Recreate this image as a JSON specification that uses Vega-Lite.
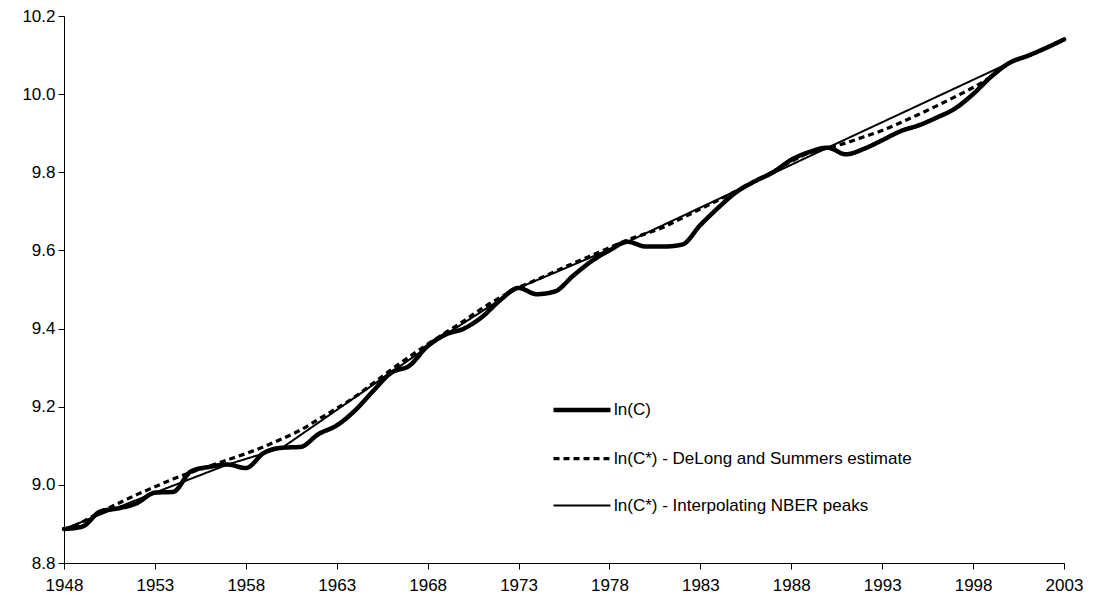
{
  "$schema": "https://vega.github.io/schema/vega-lite/v6.json",
  "width": 1000,
  "height": 547,
  "autosize": {"type": "none"},
  "padding": {"left": 64, "top": 16, "right": 31, "bottom": 45},
  "background": "white",
  "config": {
    "view": {"stroke": null},
    "font": "Liberation Sans",
    "axis": {
      "grid": false,
      "domainColor": "black",
      "domainWidth": 1,
      "tickColor": "black",
      "tickSize": 6,
      "labelColor": "black",
      "labelFont": "Liberation Sans",
      "labelFontSize": 17,
      "title": null
    }
  },
  "datasets": {
    "all": [
      {"year": 1948, "series": "ln(C)", "value": 8.887},
      {"year": 1949, "series": "ln(C)", "value": 8.893},
      {"year": 1950, "series": "ln(C)", "value": 8.932},
      {"year": 1951, "series": "ln(C)", "value": 8.94},
      {"year": 1952, "series": "ln(C)", "value": 8.953},
      {"year": 1953, "series": "ln(C)", "value": 8.98},
      {"year": 1954, "series": "ln(C)", "value": 8.982},
      {"year": 1955, "series": "ln(C)", "value": 9.035},
      {"year": 1956, "series": "ln(C)", "value": 9.046},
      {"year": 1957, "series": "ln(C)", "value": 9.052},
      {"year": 1958, "series": "ln(C)", "value": 9.043},
      {"year": 1959, "series": "ln(C)", "value": 9.082},
      {"year": 1960, "series": "ln(C)", "value": 9.095},
      {"year": 1961, "series": "ln(C)", "value": 9.097},
      {"year": 1962, "series": "ln(C)", "value": 9.13},
      {"year": 1963, "series": "ln(C)", "value": 9.152},
      {"year": 1964, "series": "ln(C)", "value": 9.19},
      {"year": 1965, "series": "ln(C)", "value": 9.24},
      {"year": 1966, "series": "ln(C)", "value": 9.287},
      {"year": 1967, "series": "ln(C)", "value": 9.305},
      {"year": 1968, "series": "ln(C)", "value": 9.355},
      {"year": 1969, "series": "ln(C)", "value": 9.385},
      {"year": 1970, "series": "ln(C)", "value": 9.4},
      {"year": 1971, "series": "ln(C)", "value": 9.43},
      {"year": 1972, "series": "ln(C)", "value": 9.473},
      {"year": 1973, "series": "ln(C)", "value": 9.504},
      {"year": 1974, "series": "ln(C)", "value": 9.488},
      {"year": 1975, "series": "ln(C)", "value": 9.495},
      {"year": 1976, "series": "ln(C)", "value": 9.535},
      {"year": 1977, "series": "ln(C)", "value": 9.572},
      {"year": 1978, "series": "ln(C)", "value": 9.6},
      {"year": 1979, "series": "ln(C)", "value": 9.622},
      {"year": 1980, "series": "ln(C)", "value": 9.61},
      {"year": 1981, "series": "ln(C)", "value": 9.61},
      {"year": 1982, "series": "ln(C)", "value": 9.615},
      {"year": 1983, "series": "ln(C)", "value": 9.665},
      {"year": 1984, "series": "ln(C)", "value": 9.71},
      {"year": 1985, "series": "ln(C)", "value": 9.75},
      {"year": 1986, "series": "ln(C)", "value": 9.777},
      {"year": 1987, "series": "ln(C)", "value": 9.8},
      {"year": 1988, "series": "ln(C)", "value": 9.832},
      {"year": 1989, "series": "ln(C)", "value": 9.852},
      {"year": 1990, "series": "ln(C)", "value": 9.863},
      {"year": 1991, "series": "ln(C)", "value": 9.846},
      {"year": 1992, "series": "ln(C)", "value": 9.86},
      {"year": 1993, "series": "ln(C)", "value": 9.882},
      {"year": 1994, "series": "ln(C)", "value": 9.905},
      {"year": 1995, "series": "ln(C)", "value": 9.92},
      {"year": 1996, "series": "ln(C)", "value": 9.94},
      {"year": 1997, "series": "ln(C)", "value": 9.963},
      {"year": 1998, "series": "ln(C)", "value": 10.0},
      {"year": 1999, "series": "ln(C)", "value": 10.045},
      {"year": 2000, "series": "ln(C)", "value": 10.08},
      {"year": 2001, "series": "ln(C)", "value": 10.098},
      {"year": 2002, "series": "ln(C)", "value": 10.118},
      {"year": 2003, "series": "ln(C)", "value": 10.14},

      {"year": 1948, "series": "ln(C*) - DeLong and Summers estimate", "value": 8.885},
      {"year": 1949, "series": "ln(C*) - DeLong and Summers estimate", "value": 8.905},
      {"year": 1950, "series": "ln(C*) - DeLong and Summers estimate", "value": 8.93},
      {"year": 1951, "series": "ln(C*) - DeLong and Summers estimate", "value": 8.953},
      {"year": 1952, "series": "ln(C*) - DeLong and Summers estimate", "value": 8.975},
      {"year": 1953, "series": "ln(C*) - DeLong and Summers estimate", "value": 8.995},
      {"year": 1954, "series": "ln(C*) - DeLong and Summers estimate", "value": 9.015},
      {"year": 1955, "series": "ln(C*) - DeLong and Summers estimate", "value": 9.032},
      {"year": 1956, "series": "ln(C*) - DeLong and Summers estimate", "value": 9.048},
      {"year": 1957, "series": "ln(C*) - DeLong and Summers estimate", "value": 9.064},
      {"year": 1958, "series": "ln(C*) - DeLong and Summers estimate", "value": 9.08},
      {"year": 1959, "series": "ln(C*) - DeLong and Summers estimate", "value": 9.098},
      {"year": 1960, "series": "ln(C*) - DeLong and Summers estimate", "value": 9.118},
      {"year": 1961, "series": "ln(C*) - DeLong and Summers estimate", "value": 9.14},
      {"year": 1962, "series": "ln(C*) - DeLong and Summers estimate", "value": 9.168},
      {"year": 1963, "series": "ln(C*) - DeLong and Summers estimate", "value": 9.196},
      {"year": 1964, "series": "ln(C*) - DeLong and Summers estimate", "value": 9.225},
      {"year": 1965, "series": "ln(C*) - DeLong and Summers estimate", "value": 9.26},
      {"year": 1966, "series": "ln(C*) - DeLong and Summers estimate", "value": 9.295},
      {"year": 1967, "series": "ln(C*) - DeLong and Summers estimate", "value": 9.328},
      {"year": 1968, "series": "ln(C*) - DeLong and Summers estimate", "value": 9.36},
      {"year": 1969, "series": "ln(C*) - DeLong and Summers estimate", "value": 9.39},
      {"year": 1970, "series": "ln(C*) - DeLong and Summers estimate", "value": 9.42},
      {"year": 1971, "series": "ln(C*) - DeLong and Summers estimate", "value": 9.452},
      {"year": 1972, "series": "ln(C*) - DeLong and Summers estimate", "value": 9.48},
      {"year": 1973, "series": "ln(C*) - DeLong and Summers estimate", "value": 9.505},
      {"year": 1974, "series": "ln(C*) - DeLong and Summers estimate", "value": 9.525},
      {"year": 1975, "series": "ln(C*) - DeLong and Summers estimate", "value": 9.546},
      {"year": 1976, "series": "ln(C*) - DeLong and Summers estimate", "value": 9.567},
      {"year": 1977, "series": "ln(C*) - DeLong and Summers estimate", "value": 9.587},
      {"year": 1978, "series": "ln(C*) - DeLong and Summers estimate", "value": 9.607},
      {"year": 1979, "series": "ln(C*) - DeLong and Summers estimate", "value": 9.627},
      {"year": 1980, "series": "ln(C*) - DeLong and Summers estimate", "value": 9.643},
      {"year": 1981, "series": "ln(C*) - DeLong and Summers estimate", "value": 9.66},
      {"year": 1982, "series": "ln(C*) - DeLong and Summers estimate", "value": 9.683},
      {"year": 1983, "series": "ln(C*) - DeLong and Summers estimate", "value": 9.706},
      {"year": 1984, "series": "ln(C*) - DeLong and Summers estimate", "value": 9.729},
      {"year": 1985, "series": "ln(C*) - DeLong and Summers estimate", "value": 9.753},
      {"year": 1986, "series": "ln(C*) - DeLong and Summers estimate", "value": 9.778},
      {"year": 1987, "series": "ln(C*) - DeLong and Summers estimate", "value": 9.802},
      {"year": 1988, "series": "ln(C*) - DeLong and Summers estimate", "value": 9.828},
      {"year": 1989, "series": "ln(C*) - DeLong and Summers estimate", "value": 9.85},
      {"year": 1990, "series": "ln(C*) - DeLong and Summers estimate", "value": 9.862},
      {"year": 1991, "series": "ln(C*) - DeLong and Summers estimate", "value": 9.875},
      {"year": 1992, "series": "ln(C*) - DeLong and Summers estimate", "value": 9.891},
      {"year": 1993, "series": "ln(C*) - DeLong and Summers estimate", "value": 9.907},
      {"year": 1994, "series": "ln(C*) - DeLong and Summers estimate", "value": 9.927},
      {"year": 1995, "series": "ln(C*) - DeLong and Summers estimate", "value": 9.948},
      {"year": 1996, "series": "ln(C*) - DeLong and Summers estimate", "value": 9.97},
      {"year": 1997, "series": "ln(C*) - DeLong and Summers estimate", "value": 9.993},
      {"year": 1998, "series": "ln(C*) - DeLong and Summers estimate", "value": 10.017},
      {"year": 1999, "series": "ln(C*) - DeLong and Summers estimate", "value": 10.045},
      {"year": 2000, "series": "ln(C*) - DeLong and Summers estimate", "value": 10.08},
      {"year": 2001, "series": "ln(C*) - DeLong and Summers estimate", "value": 10.098},
      {"year": 2002, "series": "ln(C*) - DeLong and Summers estimate", "value": 10.118},
      {"year": 2003, "series": "ln(C*) - DeLong and Summers estimate", "value": 10.14},

      {"year": 1948, "series": "ln(C*) - Interpolating NBER peaks", "value": 8.887},
      {"year": 1953, "series": "ln(C*) - Interpolating NBER peaks", "value": 8.98},
      {"year": 1957, "series": "ln(C*) - Interpolating NBER peaks", "value": 9.052},
      {"year": 1960, "series": "ln(C*) - Interpolating NBER peaks", "value": 9.095},
      {"year": 1969, "series": "ln(C*) - Interpolating NBER peaks", "value": 9.385},
      {"year": 1973, "series": "ln(C*) - Interpolating NBER peaks", "value": 9.504},
      {"year": 1979, "series": "ln(C*) - Interpolating NBER peaks", "value": 9.622},
      {"year": 1990, "series": "ln(C*) - Interpolating NBER peaks", "value": 9.863},
      {"year": 2000, "series": "ln(C*) - Interpolating NBER peaks", "value": 10.08},
      {"year": 2001, "series": "ln(C*) - Interpolating NBER peaks", "value": 10.098},
      {"year": 2002, "series": "ln(C*) - Interpolating NBER peaks", "value": 10.118},
      {"year": 2003, "series": "ln(C*) - Interpolating NBER peaks", "value": 10.14}
    ]
  },
  "data": {"name": "all"},
  "encoding": {
    "x": {
      "field": "year",
      "type": "quantitative",
      "scale": {"domain": [1948, 2003], "nice": false, "zero": false},
      "axis": {
        "values": [1948, 1953, 1958, 1963, 1968, 1973, 1978, 1983, 1988, 1993, 1998, 2003],
        "format": "d",
        "labelPadding": 8,
        "labelFlush": false,
        "labelOverlap": false
      }
    },
    "y": {
      "field": "value",
      "type": "quantitative",
      "scale": {"domain": [8.8, 10.2], "nice": false, "zero": false},
      "axis": {
        "values": [8.8, 9.0, 9.2, 9.4, 9.6, 9.8, 10.0, 10.2],
        "format": ".1f",
        "labelPadding": 3,
        "labelFlush": false,
        "labelOverlap": false
      }
    },
    "color": {
      "field": "series",
      "type": "nominal",
      "scale": {
        "domain": ["ln(C)", "ln(C*) - DeLong and Summers estimate", "ln(C*) - Interpolating NBER peaks"],
        "range": ["black", "black", "black"]
      },
      "legend": {
        "orient": "none",
        "legendX": 487,
        "legendY": 363,
        "title": null,
        "padding": 0,
        "symbolType": "stroke",
        "symbolSize": 3249,
        "labelFont": "Liberation Sans",
        "labelFontSize": 17,
        "labelColor": "black",
        "labelOffset": 1,
        "labelLimit": 500,
        "rowPadding": 9
      }
    },
    "strokeDash": {
      "field": "series",
      "type": "nominal",
      "scale": {
        "domain": ["ln(C)", "ln(C*) - DeLong and Summers estimate", "ln(C*) - Interpolating NBER peaks"],
        "range": [[1, 0], [6, 4], [1, 0]]
      },
      "legend": null
    },
    "strokeWidth": {
      "field": "series",
      "type": "nominal",
      "scale": {
        "domain": ["ln(C)", "ln(C*) - DeLong and Summers estimate", "ln(C*) - Interpolating NBER peaks"],
        "range": [4.5, 2, 1.6]
      },
      "legend": null
    }
  },
  "layer": [
    {
      "transform": [{"filter": "datum.series === 'ln(C*) - Interpolating NBER peaks'"}],
      "mark": {"type": "line", "interpolate": "linear"}
    },
    {
      "transform": [{"filter": "datum.series === 'ln(C*) - DeLong and Summers estimate'"}],
      "mark": {"type": "line", "interpolate": "monotone"}
    },
    {
      "transform": [{"filter": "datum.series === 'ln(C)'"}],
      "mark": {"type": "line", "interpolate": "monotone", "strokeCap": "round", "strokeJoin": "round"}
    }
  ]
}
